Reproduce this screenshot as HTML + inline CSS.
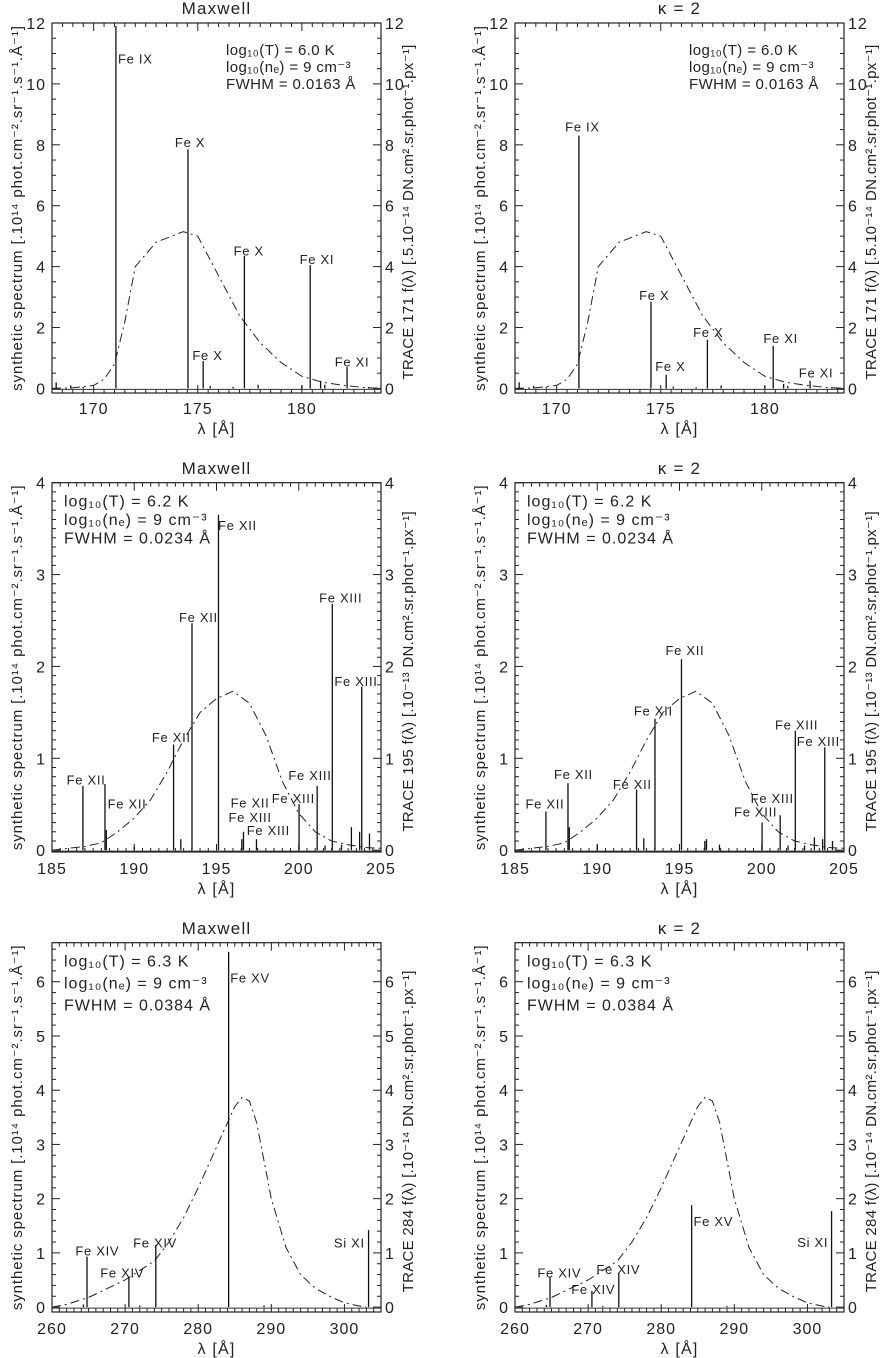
<!DOCTYPE html>
<html><head><meta charset="utf-8">
<style>
html,body{margin:0;padding:0;background:#fff;}
svg{display:block;font-family:"Liberation Sans",sans-serif;}
text{fill:#222;}
</style></head>
<body>
<svg id="fig" width="889" height="1358" viewBox="0 0 889 1358" xmlns="http://www.w3.org/2000/svg"></svg>
<script>
// ---------- Row 1 (TRACE 171) ----------
const r1LineLam = [171.07,174.53,175.26,177.24,180.40,182.17,168.2,168.9,169.5,175.6,176.7,177.9,180.0,180.9,181.1,183.2];
const r1MaxVals = [11.9,7.85,0.9,4.35,4.05,0.7,0.2,0.1,0.05,0.08,0.05,0.12,0.1,0.25,0.12,0.05];
const r1KapVals = [8.3,2.85,0.45,1.6,1.4,0.25,0.2,0.08,0.05,0.06,0.04,0.1,0.08,0.15,0.08,0.04];
const r1CurveLam = [168,169,170,170.5,171,171.5,172,173,174.3,175,176,177,178,179,180,181,182,183,184];
const r1CurveVal = [0.0,0.02,0.1,0.3,0.8,2.2,4.0,4.8,5.15,5.0,3.7,2.4,1.5,0.85,0.4,0.2,0.1,0.03,0.0];
const r1MaxLabText = ["Fe IX","Fe X","Fe X","Fe X","Fe XI","Fe XI"];
const r1MaxLabLam = [172.0,174.63,177.45,175.47,180.72,182.41];
const r1MaxLabVal = [10.83,8.09,4.53,1.1,4.25,0.88];
const r1KapLabText = ["Fe IX","Fe X","Fe X","Fe X","Fe XI","Fe XI"];
const r1KapLabLam = [171.24,174.69,175.46,177.28,180.76,182.46];
const r1KapLabVal = [8.6,3.06,0.74,1.86,1.65,0.53];
const r1XTicks = [170,175,180];
const r1YTicks = [0,2,4,6,8,10,12];
// ---------- Row 2 (TRACE 195) ----------
const r2LineLam = [186.88,188.22,192.39,193.51,195.12,196.54,196.64,197.43,200.02,201.12,202.04,203.83,192.83,203.2,204.3,203.7,190.0,202.6,188.3,201.6];
const r2MaxVals = [0.7,0.72,1.15,2.47,3.65,0.12,0.2,0.12,0.5,0.7,2.68,1.78,0.12,0.25,0.18,0.2,0.04,0.06,0.22,0.05];
const r2KapVals = [0.42,0.73,0.66,1.43,2.08,0.1,0.12,0.06,0.3,0.38,1.3,1.12,0.13,0.14,0.1,0.12,0.06,0.05,0.25,0.05];
const r2CurveLam = [185,186,187,188,189,190,191,192,193,194,195,196,197,198,199,200,201,202,203,204,205];
const r2CurveVal = [0.0,0.02,0.04,0.08,0.2,0.35,0.55,0.85,1.2,1.5,1.65,1.73,1.6,1.25,0.75,0.4,0.2,0.1,0.06,0.03,0.02];
const r2MaxLabText = ["Fe XII","Fe XII","Fe XII","Fe XII","Fe XII","Fe XII","Fe XIII","Fe XIII","Fe XIII","Fe XIII","Fe XIII","Fe XIII"];
const r2MaxLabLam = [187.07,189.56,192.25,193.9,196.27,197.04,197.04,198.15,199.67,200.68,202.55,203.48];
const r2MaxLabVal = [0.77,0.51,1.23,2.54,3.54,0.52,0.36,0.22,0.57,0.82,2.75,1.84];
const r2KapLabText = ["Fe XII","Fe XII","Fe XII","Fe XII","Fe XII","Fe XIII","Fe XIII","Fe XIII","Fe XIII"];
const r2KapLabLam = [186.82,188.55,192.13,193.41,195.33,200.64,199.63,202.12,203.44];
const r2KapLabVal = [0.51,0.83,0.72,1.52,2.18,0.57,0.42,1.37,1.19];
const r2XTicks = [185,190,195,200,205];
const r2YTicks = [0,1,2,3,4];
// ---------- Row 3 (TRACE 284) ----------
const r3LineLam = [264.79,270.52,274.2,284.16,303.3,264.3,272.0,289.0];
const r3MaxVals = [0.93,0.55,1.15,6.55,1.42,0.05,0.03,0.03];
const r3KapVals = [0.55,0.3,0.62,1.88,1.77,0.04,0.02,0.02];
const r3CurveLam = [260,262,265,270,274,276,278,280,282,284,285,286,287,288,289,290,292,294,296,298,300,302,303];
const r3CurveVal = [0.0,0.05,0.18,0.5,0.85,1.2,1.65,2.2,2.8,3.4,3.7,3.87,3.8,3.4,2.7,2.0,1.1,0.6,0.35,0.2,0.08,0.02,0.0];
const r3MaxLabText = ["Fe XV","Fe XIV","Fe XIV","Fe XIV","Si XI"];
const r3MaxLabLam = [287.09,266.2,269.6,274.1,300.67];
const r3MaxLabVal = [6.08,1.04,0.64,1.19,1.19];
const r3KapLabText = ["Fe XIV","Fe XIV","Fe XIV","Fe XV","Si XI"];
const r3KapLabLam = [266.06,270.7,274.13,287.13,300.72];
const r3KapLabVal = [0.64,0.33,0.70,1.59,1.2];
const r3XTicks = [260,270,280,290,300];
const r3YTicks = [0,1,2,3,4,5,6];

const NS = "http://www.w3.org/2000/svg";
const fig = document.getElementById('fig');
function mk(tag, attrs, parent){
  const e = document.createElementNS(NS, tag);
  for (const k in attrs) e.setAttribute(k, attrs[k]);
  (parent||fig).appendChild(e);
  return e;
}

const rows = [
  {top:23, bot:393, xmin:168, xmax:183.8, ymin:-0.15, ymax:12, xminor:0.5, yminor:0.5,
   lam:r1LineLam, curveLam:r1CurveLam, curveVal:r1CurveVal, xt:r1XTicks, yt:r1YTicks,
   vals:[r1MaxVals,r1KapVals], labT:[r1MaxLabText,r1KapLabText], labL:[r1MaxLabLam,r1KapLabLam], labV:[r1MaxLabVal,r1KapLabVal],
   ann:["6.0 K","9","0.0163"], annRight:true, trace:"TRACE 171 f(λ) [.5.10⁻¹⁴ DN.cm².sr.phot⁻¹.px⁻¹]", titleY:14, tickY:414, xlabY:434},
  {top:482.7, bot:852, xmin:185, xmax:205, ymin:-0.02, ymax:4, xminor:0.5, yminor:0.1,
   lam:r2LineLam, curveLam:r2CurveLam, curveVal:r2CurveVal, xt:r2XTicks, yt:r2YTicks,
   vals:[r2MaxVals,r2KapVals], labT:[r2MaxLabText,r2KapLabText], labL:[r2MaxLabLam,r2KapLabLam], labV:[r2MaxLabVal,r2KapLabVal],
   ann:["6.2 K","9","0.0234"], annRight:false, trace:"TRACE 195 f(λ) [.10⁻¹³ DN.cm².sr.phot⁻¹.px⁻¹]", titleY:474, tickY:874, xlabY:894},
  {top:942.7, bot:1312, xmin:260, xmax:305, ymin:-0.09, ymax:6.72, xminor:1, yminor:0.2,
   lam:r3LineLam, curveLam:r3CurveLam, curveVal:r3CurveVal, xt:r3XTicks, yt:r3YTicks,
   vals:[r3MaxVals,r3KapVals], labT:[r3MaxLabText,r3KapLabText], labL:[r3MaxLabLam,r3KapLabLam], labV:[r3MaxLabVal,r3KapLabVal],
   ann:["6.3 K","9","0.0384"], annRight:false, trace:"TRACE 284 f(λ) [.10⁻¹⁴ DN.cm².sr.phot⁻¹.px⁻¹]", titleY:934, tickY:1334, xlabY:1354}
];
const cols = [{left:52, title:"Maxwell", name:"maxwell"},{left:515, title:"κ  =  2", name:"kappa"}];
const W = 329;

rows.forEach((R, ri) => {
  cols.forEach((C, ci) => {
    const L = C.left, Rr = L + W;
    const g = mk('g', {});
    
    
    const xs = v => L + (v - R.xmin) / (R.xmax - R.xmin) * W;
    const ys = v => R.bot - (v - R.ymin) / (R.ymax - R.ymin) * (R.bot - R.top);
    const t = mk('text', {x: L + W/2, y: R.titleY, 'text-anchor':'middle', 'font-size':17, 'letter-spacing':1.2, 'xml:space':'preserve'}, g);
    t.textContent = C.title;
    
    
    const cid = 'clip'+ri+ci;
    const cp = mk('clipPath', {id:cid}, g);
    mk('rect', {x:L, y:R.top, width:W, height:R.bot-R.top}, cp);
    for (let v = Math.ceil(R.xmin/R.xminor)*R.xminor; v <= R.xmax + 1e-9; v += R.xminor) {
      const major = R.xt.some(m => Math.abs(m - v) < 1e-6);
      const len = major ? 8 : 4, x = xs(v);
      mk('line', {x1:x, x2:x, y1:R.bot, y2:R.bot-len, stroke:'#222', 'stroke-width':1}, g);
      mk('line', {x1:x, x2:x, y1:R.top, y2:R.top+len, stroke:'#222', 'stroke-width':1}, g);
    }
    R.xt.forEach(v => {
      const tx = mk('text', {x: xs(v), y: R.tickY, 'text-anchor':'middle', 'font-size':16, 'letter-spacing':1}, g);
      tx.textContent = v;
      
      
    });
    for (let v = Math.ceil(R.ymin/R.yminor)*R.yminor; v <= R.ymax + 1e-9; v += R.yminor) {
      const major = R.yt.some(m => Math.abs(m - v) < 1e-6);
      const len = major ? 8 : 4, y = ys(v);
      mk('line', {x1:L, x2:L+len, y1:y, y2:y, stroke:'#222', 'stroke-width':1}, g);
      mk('line', {x1:Rr, x2:Rr-len, y1:y, y2:y, stroke:'#222', 'stroke-width':1}, g);
    }
    R.yt.forEach(v => {
      const a = mk('text', {x: L-6, y: ys(v)+6, 'text-anchor':'end', 'font-size':16, 'letter-spacing':1}, g);
      a.textContent = v;
      
      
      const b = mk('text', {x: Rr+4, y: ys(v)+6, 'text-anchor':'start', 'font-size':16, 'letter-spacing':1}, g);
      b.textContent = v;
      
      
    });
    const xl = mk('text', {x: L+W/2, y: R.xlabY, 'text-anchor':'middle', 'font-size':16, 'letter-spacing':1.2, 'xml:space':'preserve'}, g);
    xl.textContent = 'λ [Å]';
    
    
    const mid = (R.top + R.bot)/2;
    const yl = mk('text', {x: L-30, y: mid, 'text-anchor':'middle', 'font-size':15, 'letter-spacing':0.9, transform:'rotate(-90 '+(L-30)+' '+mid+')'}, g);
    yl.textContent = 'synthetic spectrum [.10¹⁴ phot.cm⁻².sr⁻¹.s⁻¹.Å⁻¹]';
    
    
    const yr = mk('text', {x: Rr+32, y: mid+4, 'text-anchor':'middle', 'font-size':15, 'letter-spacing':0.3, transform:'rotate(-90 '+(Rr+32)+' '+(mid+4)+')'}, g);
    yr.textContent = R.trace;
    
    
    const pts = R.curveLam.map((l,i) => xs(l).toFixed(1)+','+ys(R.curveVal[i]).toFixed(1)).join(' ');
    const cu = mk('polyline', {points:pts, fill:'none', stroke:'#222', 'stroke-width':1, 'stroke-dasharray':'9,4,2,4', 'clip-path':'url(#'+cid+')'}, g);
    
    
    const vals = R.vals[ci];
    R.lam.forEach((l,i) => {
      const ln = mk('line', {x1:xs(l), x2:xs(l), y1:ys(0), y2:ys(vals[i]), stroke:'#111', 'stroke-width':1.3, 'clip-path':'url(#'+cid+')'}, g);
      
      
    });
    mk('line', {x1:L, x2:Rr, y1:ys(0)+1, y2:ys(0)+1, stroke:'#333', 'stroke-width':1}, g);
    R.labT[ci].forEach((s,i) => {
      const lb = mk('text', {x: xs(R.labL[ci][i]), y: ys(R.labV[ci][i])+5, 'text-anchor':'middle', 'font-size':13, 'letter-spacing':0.7, 'xml:space':'preserve'}, g);
      lb.textContent = s.replace(' ', '  ');
      
      
    });
    const lines = ['log₁₀(T) = '+R.ann[0], 'log₁₀(nₑ) = '+R.ann[1]+' cm⁻³', 'FWHM = '+R.ann[2]+' Å'];
    const ax = R.annRight ? L+174 : L+12;
    const ay = R.annRight ? R.top+32 : R.top+24;
    const dy = R.annRight ? 17 : (ri===1 ? 18.5 : 22);
    lines.forEach((s,i) => {
      const an = mk('text', {x: ax, y: ay + i*dy, 'font-size':R.annRight ? 15 : 16, 'letter-spacing':R.annRight ? 0.4 : 1, 'xml:space':'preserve'}, g);
      an.textContent = s.replace(/ = /, '  =  ');
      
      
    });
    mk('rect', {x:L, y:R.top, width:W, height:R.bot-R.top, fill:'none', stroke:'#222', 'stroke-width':1.2}, g);
  });
});
</script>
</body></html>
